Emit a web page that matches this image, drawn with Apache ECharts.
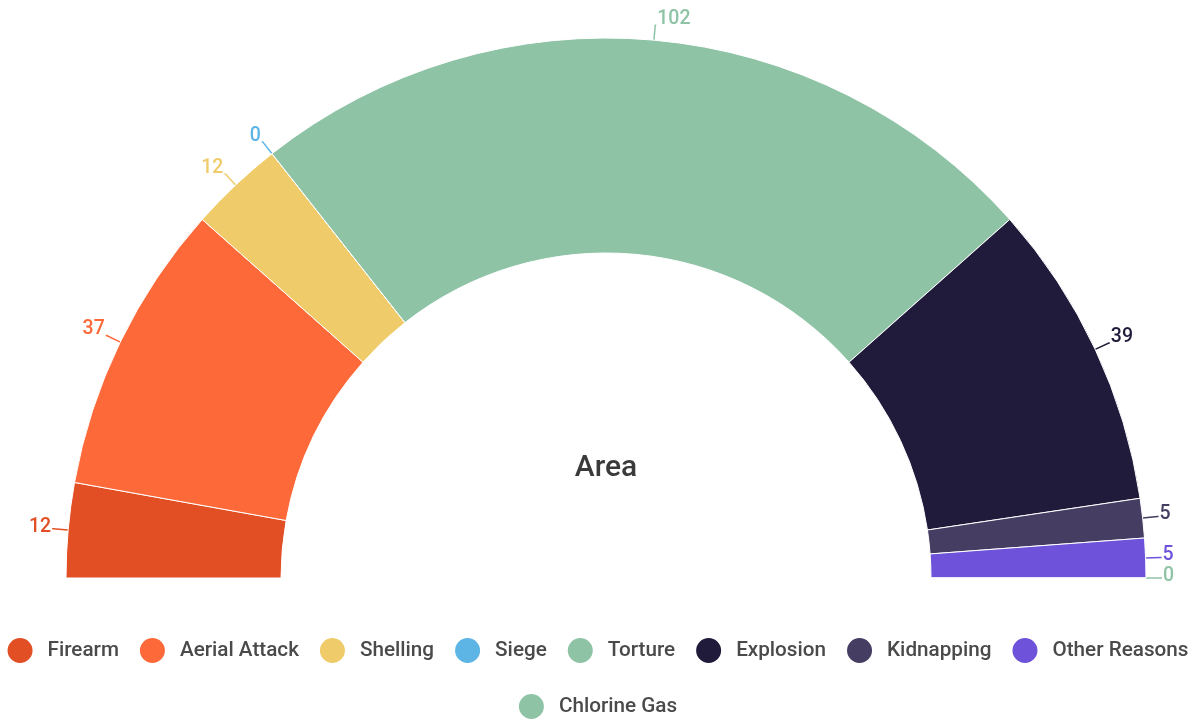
<!DOCTYPE html>
<html>
<head>
<meta charset="utf-8">
<script src="https://cdn.jsdelivr.net/npm/echarts@6/dist/echarts.min.js"></script>
<style>html,body{margin:0;padding:0;background:#fff;}#c{width:1194px;height:720px;}</style>
</head>
<body>
<div id="c"></div>
<script>
const categories = ['Firearm','Aerial Attack','Shelling','Siege','Torture','Explosion','Kidnapping','Other Reasons','Chlorine Gas'];
const values = [12, 37, 12, 0, 102, 39, 5, 5, 0];
const colors = ['#E34F25','#FD6939','#EFCB6A','#5DB5E5','#8FC3A6','#211B3B','#453E62','#6E53DA','#8FC3A6'];
const titleText = 'Area';

const legendText = {fontFamily: 'Roboto', fontSize: 20.7, fontWeight: 500, color: '#4a4a4a', padding: [0,0,0,9]};
const chart = echarts.init(document.getElementById('c'));
chart.setOption({
  animation: false,
  color: colors,
  graphic: [{
    type: 'text', x: 606, y: 468,
    style: {text: titleText, fontFamily: 'Roboto', fontSize: 30, fontWeight: 500, fill: '#3a3a3a',
            align: 'center', verticalAlign: 'middle'}
  }],
  legend: [{
    top: 631, left: 'center',
    icon: 'circle', itemWidth: 27, itemHeight: 27, itemGap: 19,
    textStyle: legendText,
    data: categories.slice(0, 8)
  }, {
    top: 687, left: 'center',
    icon: 'circle', itemWidth: 27, itemHeight: 27, itemGap: 19,
    textStyle: legendText,
    data: categories.slice(8)
  }],
  series: [{
    type: 'pie',
    center: [606, 578],
    radius: [325, 540],
    startAngle: 180,
    endAngle: 0,
    avoidLabelOverlap: false,
    itemStyle: {borderColor: '#fff', borderWidth: 1},
    label: {
      show: true, position: 'outside', formatter: '{c}',
      fontFamily: 'Roboto', fontSize: 19.5, fontWeight: 500, color: 'inherit',
      distanceToLabelLine: 1
    },
    labelLine: {show: true, length: 15, length2: 1, lineStyle: {width: 1.5}},
    labelLayout: function (p) {
      return {dy: p.labelRect.y < 480 ? -6 : -2};
    },
    data: categories.map((n, i) => ({name: n, value: values[i]}))
  }]
});
</script>
</body>
</html>
